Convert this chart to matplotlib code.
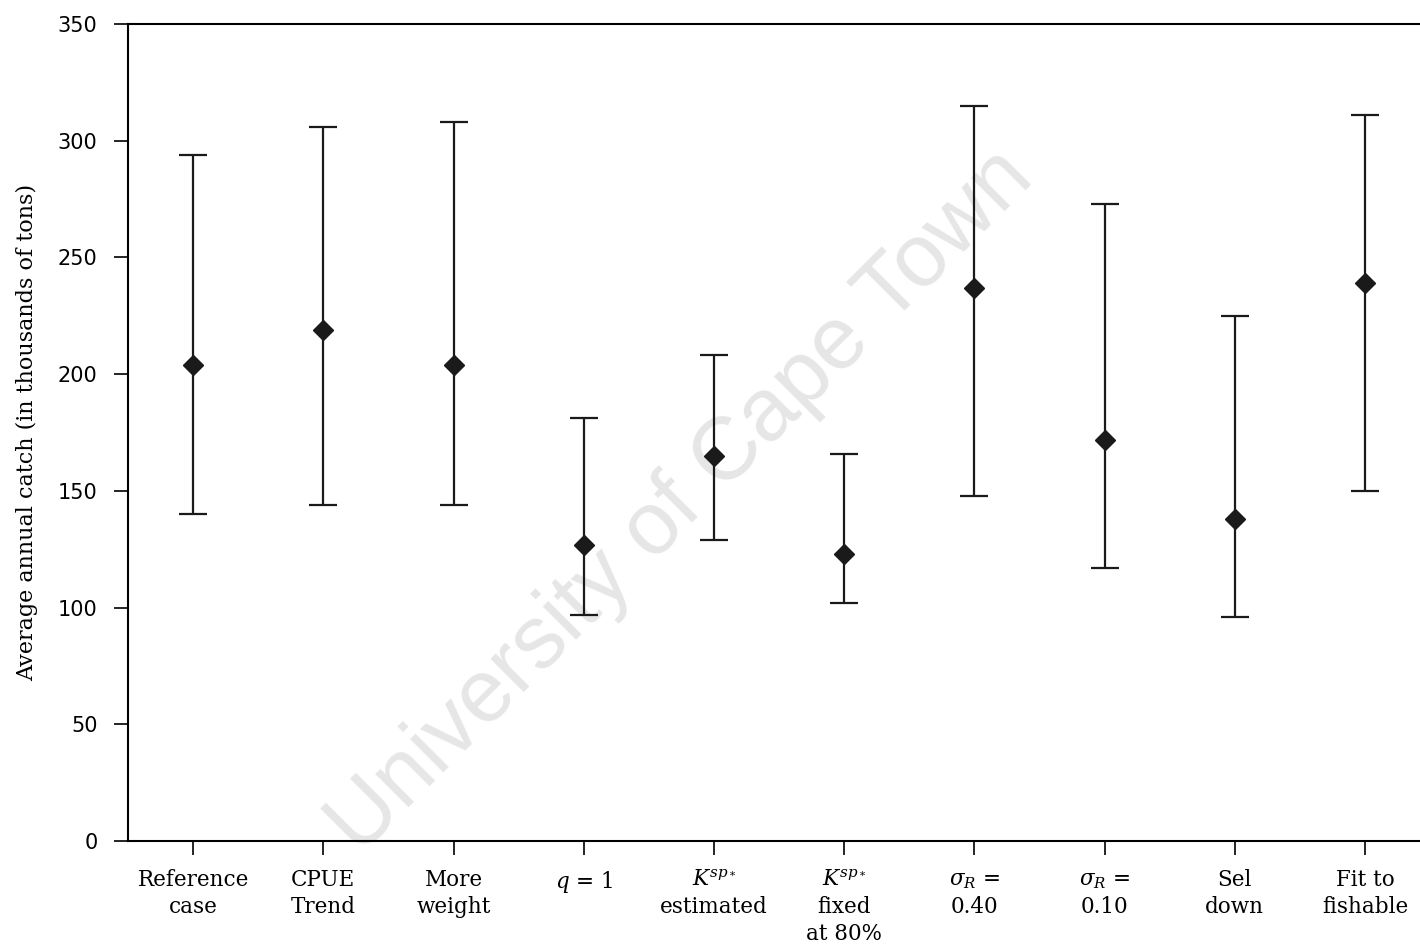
import numpy as np
import matplotlib.pyplot as plt

labels = ['Reference\ncase', 'CPUE\nTrend', 'More\nweight', r'$q$ = 1',
          r'$K^{sp_*}$' + '\nestimated', r'$K^{sp_*}$' + '\nfixed\nat 80%',
          r'$\sigma_R$ =' + '\n0.40', r'$\sigma_R$ =' + '\n0.10',
          'Sel\ndown', 'Fit to\nfishable']
mid = [204, 219, 204, 127, 165, 123, 237, 172, 138, 239]
upper = [294, 306, 308, 181, 208, 166, 315, 273, 225, 311]
lower = [140, 144, 144, 97, 129, 102, 148, 117, 96, 150]
yticks = [0, 50, 100, 150, 200, 250, 300, 350]

plt.rcParams['font.family'] = ['DejaVu Serif']
plt.rcParams['mathtext.fontset'] = 'dejavuserif'

fig = plt.figure(figsize=(14.2, 9.48), dpi=100)
ax = fig.add_axes([128/1420, 107/948, 1302/1420, 817/948])

# watermark behind the data
ax.text(0.425, 0.415, 'University of Cape Town', transform=ax.transAxes,
        fontsize=64, rotation=45, color='#e6e6e6', family='Liberation Sans',
        ha='center', va='center', zorder=0, clip_on=False)

x = np.arange(len(mid)) + 0.5
mid = np.array(mid)
err = [mid - np.array(lower), np.array(upper) - mid]
ax.errorbar(x, mid, yerr=err, fmt='D', color='#1a1a1a', ms=10,
            elinewidth=1.6, capsize=10, capthick=1.6, zorder=3)

ax.set_xlim(0, 10)
ax.set_ylim(0, 350)
ax.set_yticks(yticks)
ax.set_yticklabels([str(t) for t in yticks], fontsize=15, family='DejaVu Sans')
ax.set_xticks(x)
ax.set_xticklabels(labels, fontsize=15.5, linespacing=1.3, va='top')
ax.tick_params(axis='both', direction='out', length=10, width=1.2)
ax.tick_params(axis='y', pad=12)
ax.tick_params(axis='x', pad=10)
ax.spines['right'].set_visible(False)
for s in ['left', 'bottom', 'top']:
    ax.spines[s].set_linewidth(1.5)
ax.set_ylabel('Average annual catch (in thousands of tons)', fontsize=16, labelpad=14)

fig.savefig('out.png')
